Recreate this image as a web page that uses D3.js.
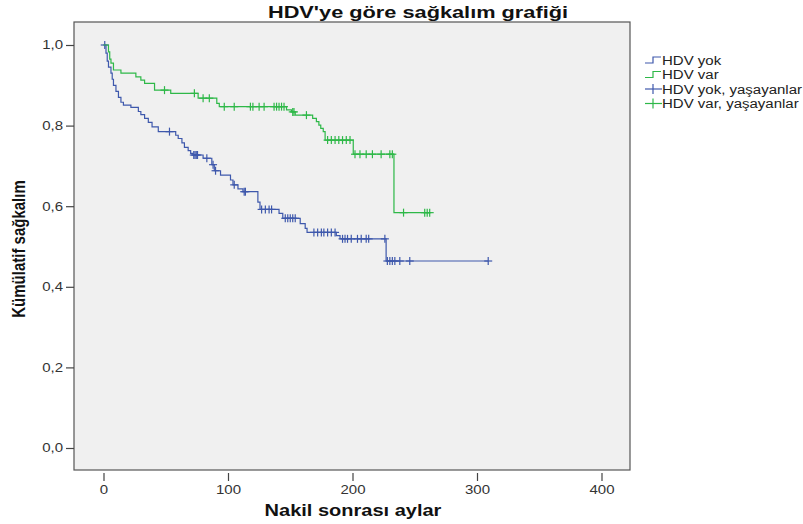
<!DOCTYPE html>
<html><head><meta charset="utf-8">
<script src="https://cdn.jsdelivr.net/npm/d3@7"></script>
<style>body{margin:0;background:#fff;font-family:"Liberation Sans",Arial,sans-serif}</style>
</head><body><svg id="c" width="803" height="524"></svg>
<script>
const xTicks = [0, 100, 200, 300, 400];
const yTicks = [0, 0.2, 0.4, 0.6, 0.8, 1.0];
const seriesNames = ["HDV yok", "HDV var"];
const legendLabels = ["HDV yok", "HDV var", "HDV yok, yaşayanlar", "HDV var, yaşayanlar"];
const colors = ["#3E58AC", "#2EB848"];

// event steps: [time, survival after step]
const yokSteps = [[0,1.0],[2,0.98],[3,0.96],[4,0.945],[6,0.93],[7,0.915],[8,0.90],[10,0.885],[12,0.87],[14,0.858],[16,0.851],
 [22,0.845],[28,0.835],[30,0.827],[33,0.818],[36,0.808],[39,0.797],[44,0.785],[58,0.776],[60,0.768],[63,0.757],[65,0.746],
 [68,0.738],[70,0.731],[72,0.727],[80,0.719],[87,0.703],[89,0.688],[94,0.677],[102,0.665],[104,0.653],[108,0.643],[112,0.636],
 [124,0.61],[125.7,0.592],[141,0.582],[144,0.570],[158,0.557],[162,0.545],[163.5,0.535],[187,0.527],[190,0.519],[227,0.464],[309,0.464]];
const yokCensored = [1,53,72.5,73.5,74.5,75.5,83,88,90,105,113,114,127,130,133,135,146,148,150,152,154,169,172,175,177,180,183,186,
 192,194,196,199,204,207,211,213,226,228,230,232,234,238,246,309];

const varSteps = [[0,1.0],[4,0.983],[5,0.965],[6,0.955],[8,0.938],[14,0.930],[26,0.921],[30,0.913],[33,0.905],[41,0.888],[54,0.880],
 [76,0.868],[91,0.855],[93,0.847],[147,0.839],[151,0.834],[154,0.826],[168,0.818],[171,0.810],[173,0.801],[174.5,0.793],
 [176.5,0.785],[178,0.764],[200.6,0.729],[233.3,0.584],[262,0.584]];
const varCensored = [49,73,80,85,97,105,118,120,125,129,137,139,141,143,145,152,153,163,180,183,186,189,192,195,198,
 202,206,211,216,223,230,232,241,258,260,262];

const SX = 1.25; // horizontal glyph stretch seen in the reference
const svg = d3.select("#c");
const L = 74, R = 630, T = 22, B = 470;
const x = d3.scaleLinear().domain([0, 400]).range([103.5, 601.5]);
const y = d3.scaleLinear().domain([0, 1]).range([448, 45]);

svg.append("rect").attr("x", L).attr("y", T).attr("width", R - L).attr("height", B - T)
  .attr("fill", "#f0f0f0").attr("stroke", "#555").attr("stroke-width", 1.2);

// title
svg.append("text").attr("transform", `translate(418,18) scale(1.28,1)`).attr("text-anchor", "middle")
  .attr("font-size", 17).attr("font-weight", "bold").attr("fill", "#111").text("HDV'ye göre sağkalım grafiği");

// x axis
const xa = svg.append("g").attr("transform", `translate(0,${B + 3})`)
  .call(d3.axisBottom(x).tickValues(xTicks).tickSize(8).tickPadding(4).tickFormat(d3.format("d")));
xa.select(".domain").remove();
xa.selectAll("line").attr("stroke", "#444").attr("stroke-width", 1.2);
xa.selectAll("text").attr("font-size", 12).attr("fill", "#333").attr("font-family", "Liberation Sans, Arial")
  .attr("transform", `scale(${SX},1)`);

// y axis
const ya = svg.append("g").attr("transform", `translate(${L},0)`)
  .call(d3.axisLeft(y).tickValues(yTicks).tickSize(8).tickPadding(3).tickFormat(d => d3.format(".1f")(d).replace(".", ",")));
ya.select(".domain").remove();
ya.selectAll("line").attr("stroke", "#444").attr("stroke-width", 1.2);
ya.selectAll("text").attr("font-size", 12).attr("fill", "#333").attr("font-family", "Liberation Sans, Arial")
  .attr("x", 0).attr("transform", `translate(-11,0) scale(${SX},1)`);

svg.append("text").attr("transform", `translate(353,516) scale(${SX},1)`).attr("text-anchor", "middle")
  .attr("font-size", 16).attr("font-weight", "bold").attr("fill", "#111").text("Nakil sonrası aylar");
svg.append("text").attr("transform", `translate(25,249) rotate(-90) scale(1,${SX})`).attr("text-anchor", "middle")
  .attr("font-size", 15).attr("font-weight", "bold").attr("fill", "#111").text("Kümülatif sağkalım");

function survAt(steps, t) {
  let s = 1;
  for (const [tt, ss] of steps) { if (tt <= t) s = ss; else break; }
  return s;
}
const line = d3.line().x(d => x(d[0])).y(d => y(d[1])).curve(d3.curveStepAfter);
const groups = [[yokSteps, yokCensored], [varSteps, varCensored]];
groups.forEach(([steps, cens], i) => {
  const g = svg.append("g");
  g.append("path").attr("d", line(steps)).attr("fill", "none").attr("stroke", colors[i]).attr("stroke-width", 1.2);
  cens.forEach(t => {
    const cx = x(t), cy = y(survAt(steps, t));
    g.append("line").attr("x1", cx).attr("x2", cx).attr("y1", cy - 4).attr("y2", cy + 4)
      .attr("stroke", colors[i]).attr("stroke-width", 1.2);
    g.append("line").attr("x1", cx - 4).attr("x2", cx + 4).attr("y1", cy).attr("y2", cy)
      .attr("stroke", colors[i]).attr("stroke-width", 1.2);
  });
});

// legend
const lg = svg.append("g");
legendLabels.forEach((lab, i) => {
  const yy = 60 + i * 14.5;
  const c = colors[i % 2];
  if (i < 2) {
    lg.append("path").attr("d", `M645,${yy + 3}H653V${yy - 3}H661`).attr("fill", "none").attr("stroke", c).attr("stroke-width", 1.2);
  } else {
    lg.append("line").attr("x1", 645).attr("x2", 662).attr("y1", yy).attr("y2", yy).attr("stroke", c).attr("stroke-width", 1.2);
    lg.append("line").attr("x1", 653).attr("x2", 653).attr("y1", yy - 5).attr("y2", yy + 5).attr("stroke", c).attr("stroke-width", 1.2);
  }
  lg.append("text").attr("transform", `translate(662,${yy + 4.5}) scale(${SX},1)`).attr("font-size", 12).attr("fill", "#222").text(lab);
});
</script></body></html>
